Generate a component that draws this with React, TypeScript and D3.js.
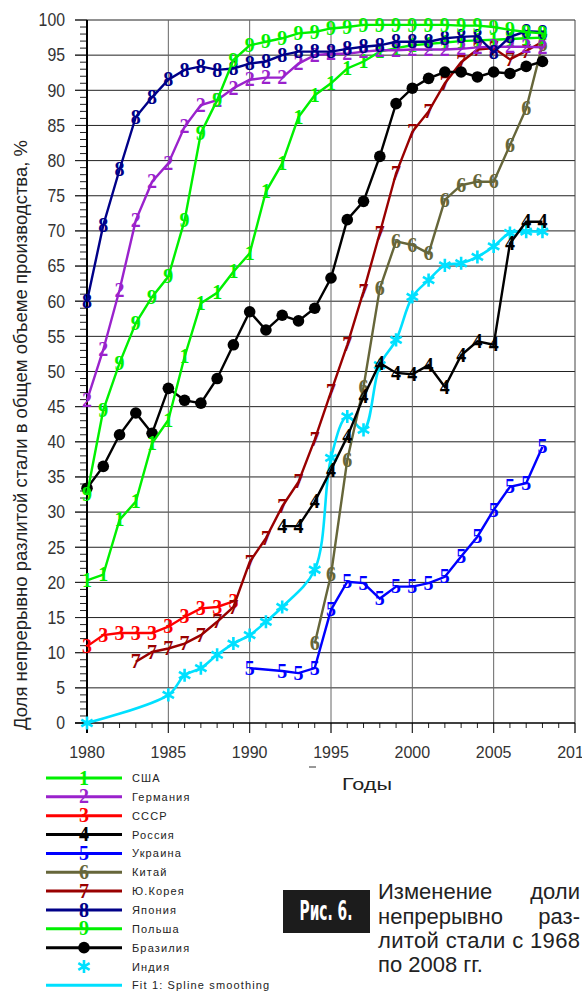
import React from 'react';
import * as d3 from 'd3';

// ---- data ----
const xTicks = [1980, 1985, 1990, 1995, 2000, 2005, 2010];
const yTicks = [0, 5, 10, 15, 20, 25, 30, 35, 40, 45, 50, 55, 60, 65, 70, 75, 80, 85, 90, 95, 100];

const usaStart = 1980;
const usaValues = [20.3, 21.1, 28.9, 31.5, 39.8, 43.1, 52.1, 59.7, 61.2, 64.2, 66.8, 75.6, 79.6, 86.2, 89.3, 91.0, 93.1, 94.1, 95.5, 96.0, 96.4, 96.6, 96.8, 97.0, 97.1, 97.2, 97.3, 97.4, 97.5];

const germanyStart = 1980;
const germanyValues = [45.9, 53.1, 61.6, 71.5, 77.0, 79.6, 84.8, 87.9, 88.6, 90.3, 91.5, 91.8, 91.8, 93.8, 95.0, 95.2, 95.2, 95.5, 95.7, 95.7, 95.8, 95.8, 95.8, 95.9, 96.1, 96.2, 96.2, 96.2, 96.1];

const ussrStart = 1980;
const ussrValues = [10.9, 12.5, 12.8, 12.8, 12.8, 13.7, 15.1, 16.3, 16.5, 17.3];

const russiaStart = 1992;
const russiaValues = [28.0, 28.0, 31.5, 36.0, 40.7, 46.4, 51.2, 49.8, 49.6, 50.9, 47.8, 52.3, 54.3, 53.8, 68.2, 71.3, 71.3];

const ukraineYears = [1990, 1992, 1993, 1994, 1995, 1996, 1997, 1998, 1999, 2000, 2001, 2002, 2003, 2004, 2005, 2006, 2007, 2008];
const ukraineValues = [7.8, 7.4, 7.1, 7.8, 16.1, 20.1, 19.9, 17.7, 19.4, 19.4, 19.9, 20.8, 23.7, 26.5, 30.3, 33.6, 34.1, 39.3];

const chinaStart = 1994;
const chinaValues = [11.3, 21.1, 37.4, 47.8, 61.8, 68.5, 68.0, 66.8, 74.4, 76.5, 77.0, 77.0, 82.2, 87.4, 96.5];

const koreaStart = 1983;
const koreaValues = [8.7, 10.1, 10.6, 11.3, 12.5, 14.4, 16.5, 22.9, 26.3, 30.8, 34.3, 40.3, 47.1, 53.8, 61.4, 69.7, 78.2, 84.1, 87.0, 91.0, 94.0, 95.8, 96.0, 94.4, 95.6, 96.9];

const japanStart = 1980;
const japanValues = [60.0, 70.8, 78.7, 86.2, 89.0, 91.5, 92.9, 93.4, 92.9, 93.1, 93.8, 94.1, 95.0, 95.5, 95.5, 95.5, 95.9, 96.2, 96.4, 96.9, 96.9, 96.9, 97.4, 97.6, 97.7, 95.4, 97.6, 98.4, 98.3];

const polandStart = 1980;
const polandValues = [32.5, 44.5, 51.2, 56.9, 60.6, 63.5, 71.5, 83.9, 88.6, 94.3, 96.4, 96.9, 97.4, 98.1, 98.3, 98.8, 99.0, 99.3, 99.3, 99.3, 99.3, 99.3, 99.3, 99.2, 99.2, 99.0, 98.6, 98.3, 98.1];

const brazilStart = 1980;
const brazilValues = [33.4, 36.5, 41.0, 44.1, 41.2, 47.6, 45.9, 45.5, 49.0, 53.8, 58.5, 55.9, 58.0, 57.2, 59.0, 63.3, 71.6, 74.2, 80.6, 88.1, 90.3, 91.7, 92.6, 92.6, 91.9, 92.6, 92.4, 93.4, 94.1];

const indiaYears = [1980, 1985, 1986, 1987, 1988, 1989, 1990, 1991, 1992, 1994, 1995, 1996, 1997, 1998, 1999, 2000, 2001, 2002, 2003, 2004, 2005, 2006, 2007, 2008];
const indiaValues = [0, 4.0, 6.8, 7.8, 9.7, 11.3, 12.5, 14.4, 16.5, 21.8, 37.7, 43.6, 41.7, 50.9, 54.5, 60.6, 63.0, 65.1, 65.4, 66.3, 67.8, 69.7, 69.9, 69.9];

const legendLabels = ['США', 'Германия', 'СССР', 'Россия', 'Украина', 'Китай', 'Ю.Корея', 'Япония', 'Польша', 'Бразилия', 'Индия', 'Fit 1: Spline smoothing'];

const yTitle = 'Доля непрерывно разлитой стали в общем объеме производства, %';
const xTitle = 'Годы';
const captionLabel = 'Рис. 6.';

// ---- styles ----
const C = {
  usa: '#00f000',
  germany: '#9a22cc',
  ussr: '#ff0000',
  russia: '#000000',
  ukraine: '#0000ff',
  china: '#66663a',
  korea: '#990000',
  japan: '#000088',
  poland: '#00f000',
  brazil: '#000000',
  india: '#00e0ff',
};

const seq = (start: number, vals: number[]): [number, number][] => vals.map((v, i) => [start + i, v]);
const pairs = (ys: number[], vals: number[]): [number, number][] => vals.map((v, i) => [ys[i], v]);

type S = { key: string; color: string; marker: string; pts: [number, number][] };

const series: S[] = [
  { key: 'ussr', color: C.ussr, marker: '3', pts: seq(ussrStart, ussrValues) },
  { key: 'korea', color: C.korea, marker: '7', pts: seq(koreaStart, koreaValues) },
  { key: 'china', color: C.china, marker: '6', pts: seq(chinaStart, chinaValues) },
  { key: 'ukraine', color: C.ukraine, marker: '5', pts: pairs(ukraineYears, ukraineValues) },
  { key: 'russia', color: C.russia, marker: '4', pts: seq(russiaStart, russiaValues) },
  { key: 'brazil', color: C.brazil, marker: 'dot', pts: seq(brazilStart, brazilValues) },
  { key: 'usa', color: C.usa, marker: '1', pts: seq(usaStart, usaValues) },
  { key: 'germany', color: C.germany, marker: '2', pts: seq(germanyStart, germanyValues) },
  { key: 'japan', color: C.japan, marker: '8', pts: seq(japanStart, japanValues) },
  { key: 'poland', color: C.poland, marker: '9', pts: seq(polandStart, polandValues) },
];

const legendItems = [
  { color: C.usa, marker: '1', line: true },
  { color: C.germany, marker: '2', line: true },
  { color: C.ussr, marker: '3', line: true },
  { color: C.russia, marker: '4', line: true },
  { color: C.ukraine, marker: '5', line: true },
  { color: C.china, marker: '6', line: true },
  { color: C.korea, marker: '7', line: true },
  { color: C.japan, marker: '8', line: true },
  { color: C.poland, marker: '9', line: true },
  { color: C.brazil, marker: 'dot', line: true },
  { color: C.india, marker: 'star', line: false },
  { color: C.india, marker: 'none', line: true },
];

const X0 = 87, X1 = 575, YB = 723, YT = 20;
const x = d3.scaleLinear().domain([1980, 2010]).range([X0, X1]);
const y = d3.scaleLinear().domain([0, 100]).range([YB, YT]);

const lineGen = d3.line<[number, number]>().x(d => x(d[0])).y(d => y(d[1]));
const splineGen = d3.line<[number, number]>().x(d => x(d[0])).y(d => y(d[1])).curve(d3.curveCatmullRom.alpha(0.5));
const starPath = d3.symbol().type(d3.symbolAsterisk).size(120)() as string;

const MFONT = 'Liberation Serif';
const MSIZE = 20;

function Marker({ m, color, cx, cy }: { m: string; color: string; cx: number; cy: number }) {
  if (m === 'dot') return <circle cx={cx} cy={cy} r={5.8} fill={color} />;
  if (m === 'star') return <path d={starPath} transform={`translate(${cx},${cy})`} stroke={color} strokeWidth={2.6} fill="none" />;
  if (m === 'none') return null;
  return (
    <text x={cx} y={cy + MSIZE * 0.33} textAnchor="middle" fontFamily={MFONT} fontWeight="bold" fontSize={MSIZE} fill={color}>{m}</text>
  );
}

export default function App() {
  const minorY = d3.range(0, 101, 1);
  const minorX = d3.range(1980, 2011, 1);
  const gridY = yTicks.filter(v => v > 0);
  const gridX = xTicks.filter(v => v > 1980);
  const indiaPts = pairs(indiaYears, indiaValues);
  const LX0 = 46, LX1 = 122, LTX = 132, LY0 = 778, LDY = 18.85;
  return (
    <svg width={582} height={992} style={{ position: 'absolute', left: 0, top: 0, background: '#fff' }} fontFamily="Liberation Sans, Arial, sans-serif">
      <rect x={0} y={0} width={582} height={992} fill="#fff" />
      {/* grid */}
      {gridY.map(v => (
        <line key={'gy' + v} x1={75} x2={X1} y1={y(v)} y2={y(v)} stroke="#222" strokeWidth={1} />
      ))}
      {gridX.map(v => (
        <line key={'gx' + v} x1={x(v)} x2={x(v)} y1={YT} y2={YB + 10} stroke={v === 2010 ? '#444' : '#666'} strokeWidth={1} />
      ))}
      {/* minor ticks */}
      {minorY.map(v => (
        <line key={'my' + v} x1={v % 5 === 0 ? 75 : 80} x2={X0} y1={y(v)} y2={y(v)} stroke="#222" strokeWidth={1} />
      ))}
      {minorX.map(v => (
        <line key={'mx' + v} x1={x(v)} x2={x(v)} y1={YB} y2={v % 5 === 0 ? YB + 10 : YB + 5} stroke="#222" strokeWidth={1} />
      ))}
      {/* axes */}
      <line x1={X0} x2={X0} y1={YT} y2={YB + 10} stroke="#000" strokeWidth={2} />
      <line x1={75} x2={X1} y1={YB} y2={YB} stroke="#000" strokeWidth={1.5} />
      {/* tick labels */}
      {yTicks.map(v => (
        <text key={'yl' + v} transform={`translate(65,${y(v) + 6.3}) scale(0.88,1)`} textAnchor="end" fontSize={18} fill="#333">{v}</text>
      ))}
      {xTicks.map(v => (
        <text key={'xl' + v} x={x(v)} y={758} textAnchor="middle" fontSize={16} fill="#333">{v}</text>
      ))}
      <line x1={309} x2={316} y1={767} y2={767} stroke="#333" strokeWidth={1} />
      <text transform="translate(27,435) rotate(-90)" textAnchor="middle" fontSize={18} fill="#222" textLength={590} lengthAdjust="spacingAndGlyphs">{yTitle}</text>
      <text x={367} y={790} textAnchor="middle" fontSize={16} fill="#222" textLength={50} lengthAdjust="spacingAndGlyphs">{xTitle}</text>

      {/* India spline */}
      <path d={splineGen(indiaPts) as string} fill="none" stroke={C.india} strokeWidth={2.6} />
      {indiaPts.map((p, i) => (
        <Marker key={'in' + i} m="star" color={C.india} cx={x(p[0])} cy={y(p[1])} />
      ))}

      {series.map(s => (
        <g key={s.key}>
          <path d={lineGen(s.pts) as string} fill="none" stroke={s.color} strokeWidth={2.4} />
          {s.pts.map((p, i) => (
            <Marker key={i} m={s.marker} color={s.color} cx={x(p[0])} cy={y(p[1])} />
          ))}
        </g>
      ))}

      {/* legend */}
      {legendItems.map((it, i) => {
        const cy = LY0 + i * LDY;
        return (
          <g key={'lg' + i}>
            {it.line && <line x1={LX0} x2={LX1} y1={cy} y2={cy} stroke={it.color} strokeWidth={3} />}
            <Marker m={it.marker} color={it.color} cx={84} cy={cy} />
            <text x={LTX} y={cy + 4} fontSize={11} letterSpacing={1.15} fill="#222">{legendLabels[i]}</text>
          </g>
        );
      })}

      {/* caption */}
      <rect x={283} y={890} width={87} height={43} fill="#1c1c1c" />
      <text x={326} y={920} textAnchor="middle" fontFamily="Liberation Sans Narrow, DejaVu Sans Condensed, sans-serif" fontWeight="bold" fontSize={27} fill="#fff" textLength={53} lengthAdjust="spacingAndGlyphs">{captionLabel}</text>
      <g fontSize={22} fill="#222">
        <text x={378} y={899}>Изменение</text>
        <text x={580} y={899} textAnchor="end">доли</text>
        <text x={378} y={924}>непрерывно</text>
        <text x={580} y={924} textAnchor="end">раз-</text>
        <text x={378} y={948} textLength={202} lengthAdjust="spacing">литой стали с 1968</text>
        <text x={378} y={972}>по 2008 гг.</text>
      </g>
    </svg>
  );
}
